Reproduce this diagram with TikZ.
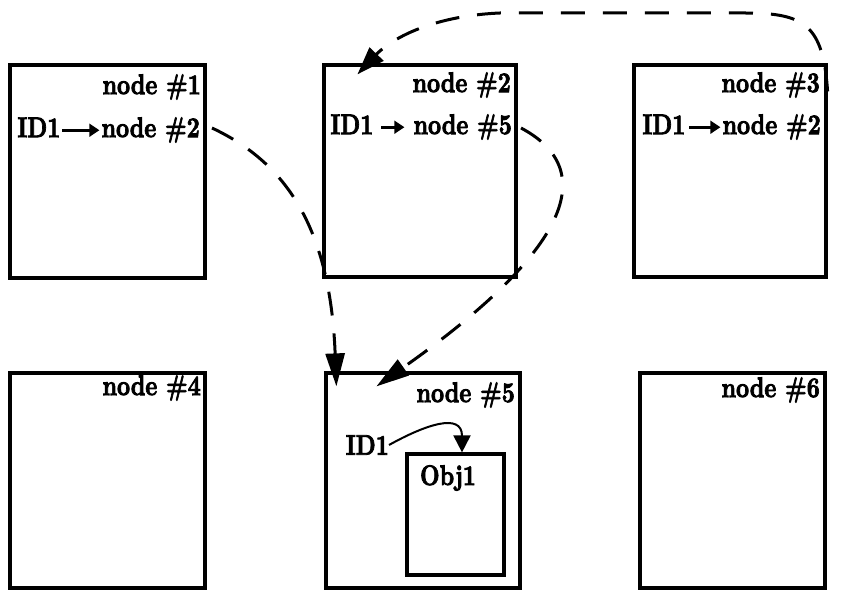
\documentclass[tikz,border=0pt]{standalone}
\usepackage{fontspec}
\setmainfont{lmroman10-regular.otf}[BoldFont=lmroman10-bold.otf, BoldFeatures={FakeBold=3}]
\usetikzlibrary{arrows.meta,calc}
\tikzset{
 box/.style={draw, line width=3.2pt, inner sep=0pt},
 lbl/.style={inner sep=0pt, font=\fontsize{22.7}{28}\selectfont\bfseries},
 link/.style={line width=3pt, dash pattern=on 24pt off 18pt},
 bigtip/.style={-{Triangle[length=33pt,width=19pt]}},
}
\newcommand\stt[1]{\scalebox{1}[1.25]{#1}}
\newcommand\idarrow[1]{\tikz[x=1pt,y=1pt,baseline=-5.5pt]\draw[line width=2.2pt,-{Triangle[length=10pt,width=10pt]}] (0,0) -- (#1,0);}
\begin{document}
\begin{tikzpicture}[x=1pt,y=-1pt]
\useasboundingbox (0,0) rectangle (841,593);
% boxes
\node[box, minimum width=195pt, minimum height=213pt] (n1) at (107.5,171.5) {};
\node[box, minimum width=192pt, minimum height=212pt] (n2) at (420,171) {};
\node[box, minimum width=192pt, minimum height=212pt] (n3) at (730,171) {};
\node[box, minimum width=195pt, minimum height=215pt] (n4) at (107.5,480.5) {};
\node[box, minimum width=194pt, minimum height=215pt] (n5) at (423,480.5) {};
\node[box, minimum width=185pt, minimum height=215pt] (n6) at (732.5,480.5) {};
\node[box, minimum width=97pt, minimum height=121pt] (o1) at (455.5,514.5) {};
% labels
\node[lbl, anchor=east] (l1a) at (201,87) {\stt{node \#1}};
\node[lbl, anchor=east] (l1b) at (200,130) {\stt{ID1\hspace{1pt}\idarrow{37}\hspace{1pt}node \#2}};
\node[lbl, anchor=east] (l2a) at (511,85) {\stt{node \#2}};
\node[lbl, anchor=east] (l2b) at (512,127) {\stt{ID1\hspace{7pt}\idarrow{23}\hspace{8pt}node \#5}};
\node[lbl, anchor=east] (l3a) at (820,85) {\stt{node \#3}};
\node[lbl, anchor=east] (l3b) at (821,127) {\stt{ID1\hspace{3pt}\idarrow{31}\hspace{1pt}node \#2}};
\node[lbl, anchor=east] (l4) at (201,388) {\stt{node \#4}};
\node[lbl, anchor=east] (l5) at (515,395) {\stt{node \#5}};
\node[lbl, anchor=east] (l6) at (820,390) {\stt{node \#6}};
\node[lbl, anchor=east] (id) at (389,445) {\stt{ID1}};
\node[lbl] (ot) at (448,478) {\stt{Obj1}};
% dashed connectors
\draw[link, bigtip] ([xshift=12pt,yshift=2pt]l1b.east) .. controls (280,160) and (330,220) .. ([xshift=12pt,yshift=-15pt]n5.north west);
\draw[link, bigtip] ([xshift=9pt,yshift=-1pt]l2b.east) .. controls (600,170) and (570,250) .. ([xshift=52pt,yshift=-15pt]n5.north west);
\draw[link, -{Triangle[length=28pt,width=19pt]}] ([yshift=-28pt]n3.north east) .. controls (823,25) and (805,13) .. (745,13) -- (500,13) .. controls (430,16) and (390,40) .. ([xshift=35pt,yshift=-11pt]n2.north west);
% inner arrow
\draw[line width=2pt, -{Triangle[length=17pt,width=17pt]}] (id.east) .. controls (425,425) and (462,412) .. ([xshift=6.5pt]o1.north);
\end{tikzpicture}
\end{document}
